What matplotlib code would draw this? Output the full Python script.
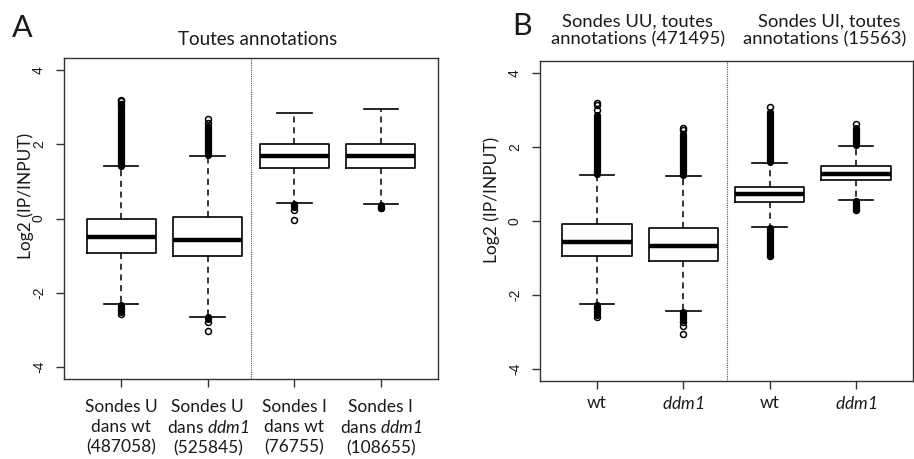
import matplotlib
matplotlib.use("Agg")
import matplotlib.pyplot as plt

plt.rcParams['font.family'] = ['Lato', 'DejaVu Sans']
plt.rcParams['axes.unicode_minus'] = False
plt.rcParams['mathtext.fontset'] = 'custom'
plt.rcParams['mathtext.rm'] = 'Lato:italic'
plt.rcParams['mathtext.it'] = 'Lato:italic'
plt.rcParams['text.color'] = '#1a1a1a'

# panel A : toutes annotations
a_labels = ["Sondes U\ndans wt\n(487058)",
            "Sondes U\ndans $ddm1$\n(525845)",
            "Sondes I\ndans wt\n(76755)",
            "Sondes I\ndans $ddm1$\n(108655)"]
a_q1 = [-0.92, -1.02, 1.37, 1.35]
a_med = [-0.51, -0.59, 1.68, 1.68]
a_q3 = [0.0, 0.05, 2.0, 2.0]
a_whislo = [-2.30, -2.64, 0.42, 0.39]
a_whishi = [1.40, 1.68, 2.83, 2.95]
# runs of overlapping outliers (lo, hi) and isolated outliers
a_dense = [[(1.42, 3.05), (-2.32, -2.52)],
           [(1.70, 2.50), (-2.66, -2.70)],
           [(0.30, 0.40)],
           [(0.28, 0.35)]]
a_fliers = [[3.2, 3.15, 3.08, -2.57],
            [2.68, 2.58, -2.78, -3.03],
            [0.24, -0.03],
            [0.27]]

# panel B : sondes UU / UI
b_labels = ["wt", "$ddm1$", "wt", "$ddm1$"]
b_q1 = [-0.94, -1.08, 0.50, 1.12]
b_med = [-0.57, -0.68, 0.74, 1.28]
b_q3 = [-0.07, -0.18, 0.92, 1.48]
b_whislo = [-2.25, -2.44, -0.16, 0.56]
b_whishi = [1.25, 1.21, 1.56, 2.02]
b_dense = [[(1.27, 2.85), (-2.27, -2.55)],
           [(1.23, 2.35), (-2.46, -2.66)],
           [(1.58, 2.95), (-0.18, -0.92)],
           [(2.05, 2.50), (0.53, 0.33)]]
b_fliers = [[3.0, 3.12, 3.18, -2.6],
            [2.45, 2.52, -2.74, -2.84, -3.04],
            [3.09, -0.95],
            [2.61, 0.29]]

ytick_vals = [-4, -2, 0, 2, 4]
positions = [1, 2, 3, 4]

fig = plt.figure(figsize=(9.14, 4.59), dpi=100)
axA = fig.add_axes([64/914, 1-379/459, 374/914, 321/459])
axB = fig.add_axes([540/914, 1-381/459, 373/914, 320/459])

def draw(ax, q1, med, q3, wlo, whi, dense, fliers, labels, xpad):
    stats = []
    for i in range(4):
        stats.append(dict(q1=q1[i], med=med[i], q3=q3[i], whislo=wlo[i],
                          whishi=whi[i], fliers=fliers[i]))
    ax.bxp(stats, positions=positions, widths=0.8, capwidths=0.4,
           boxprops=dict(color='black', lw=1.2),
           medianprops=dict(color='black', lw=3.2),
           whiskerprops=dict(color='black', lw=1.1, ls=(0, (4, 3))),
           capprops=dict(color='black', lw=1.2),
           flierprops=dict(marker='o', mfc='none', mec='black', ms=4.3, mew=1.1))
    for p, runs in zip(positions, dense):
        for lo, hi in runs:
            ax.plot([p, p], [lo, hi], color='black', lw=5.2,
                    solid_capstyle='round')
    ax.axvline(2.5, color='#555555', lw=0.8, ls=(0, (1, 1)))
    ax.set_xlim(0.34, 4.66)
    ax.set_ylim(-4.32, 4.32)
    ax.set_yticks(ytick_vals)
    ax.set_yticklabels([str(v) for v in ytick_vals], fontfamily='Liberation Sans')
    ax.set_xticks(positions)
    ax.set_xticklabels(labels, fontsize=12.5, linespacing=1.3)
    ax.tick_params(axis='y', labelrotation=90, length=6, width=1,
                   color='#333333', labelsize=10, pad=7, labelcolor='#1a1a1a')
    ax.tick_params(axis='x', length=6, width=1, color='#333333', pad=xpad,
                   labelcolor='#1a1a1a')
    for lbl in ax.get_yticklabels():
        lbl.set_va('center')
    for s in ax.spines.values():
        s.set_color('#333333')
        s.set_linewidth(1.0)

draw(axA, a_q1, a_med, a_q3, a_whislo, a_whishi, a_dense, a_fliers, a_labels, 8.5)
draw(axB, b_q1, b_med, b_q3, b_whislo, b_whishi, b_dense, b_fliers, b_labels, 4)

fig.text(26/914, 1-196/459, "Log2 (IP/INPUT)", rotation=90, ha='center',
         va='center', fontsize=12.5)
fig.text(492/914, 1-200/459, "Log2 (IP/INPUT)", rotation=90, ha='center',
         va='center', fontsize=12.5)

fig.text(12/914, 1-37/459, "A", fontsize=22, va='baseline', ha='left')
fig.text(512/914, 1-35/459, "B", fontsize=22, va='baseline', ha='left')

fig.text(258/914, 1-45/459, "Toutes annotations", fontsize=13.5,
         ha='center', va='baseline')
fig.text(638/914, 1-27/459, "Sondes UU, toutes", fontsize=13.2,
         ha='center', va='baseline')
fig.text(638/914, 1-44/459, "annotations (471495)", fontsize=13.2,
         ha='center', va='baseline')
fig.text(829/914, 1-27/459, "Sondes UI, toutes", fontsize=13.2,
         ha='center', va='baseline')
fig.text(825/914, 1-44/459, "annotations (15563)", fontsize=13.2,
         ha='center', va='baseline')

fig.savefig("out.png", dpi=100)
